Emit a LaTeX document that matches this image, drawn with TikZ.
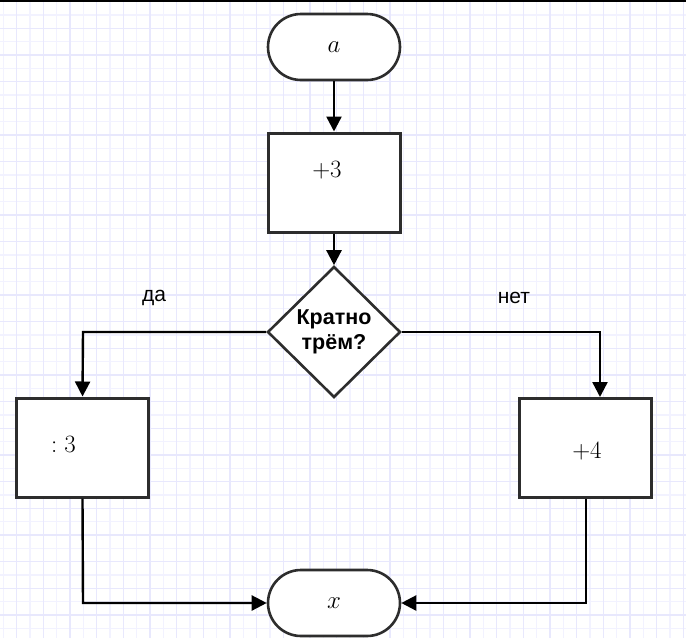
\documentclass[tikz,border=0pt]{standalone}
\usepackage{fontspec}
\setmainfont{Liberation Sans}
\usetikzlibrary{arrows.meta,shapes.geometric}
\definecolor{gridminor}{RGB}{242,242,255}
\definecolor{gridmajor}{RGB}{232,232,253}
\definecolor{border}{RGB}{45,45,45}
\tikzset{
  procbox/.style={draw=border,line width=3pt,fill=white,minimum width=132pt,minimum height=99pt,inner sep=0pt},
  termbox/.style={draw=border,line width=2.6pt,fill=white,minimum width=132pt,minimum height=66pt,rounded corners=33pt,inner sep=0pt,font=\fontsize{27}{30}\selectfont},
  decbox/.style={diamond,draw=border,line width=2.6pt,fill=white,minimum width=133pt,minimum height=131pt,inner sep=0pt,aspect=1,align=center,font=\fontsize{21.5}{25}\selectfont\bfseries},
  flow/.style={line width=2.4pt,-{Triangle[length=15pt,width=15pt]}},
  branchlbl/.style={font=\fontsize{21}{24}\selectfont,inner sep=0pt},
  mathlbl/.style={font=\fontsize{27}{30}\selectfont,inner sep=0pt}
}
\begin{document}
\begin{tikzpicture}[x=1pt,y=-1pt]
\useasboundingbox (0,0) rectangle (686,638);
\fill[white] (0,0) rectangle (686,638);
% grid
\foreach \i in {0,...,51} {
  \draw[gridminor,line width=1.2pt] ({3.3+13.333*\i},0) -- ({3.3+13.333*\i},638);
}
\foreach \j in {0,...,48} {
  \draw[gridminor,line width=1.2pt] (0,{1.67+13.333*\j}) -- (686,{1.67+13.333*\j});
}
\foreach \i in {0,...,25} {
  \draw[gridmajor,line width=1.2pt] ({16.7+26.667*\i},0) -- ({16.7+26.667*\i},638);
}
\foreach \j in {0,...,23} {
  \draw[gridmajor,line width=1.2pt] (0,{1.67+26.667*\j}) -- (686,{1.67+26.667*\j});
}
\draw[black,line width=2pt] (0,0.8) -- (686,0.8);

% nodes
\node[termbox] (start) at (334,47) {$a$};
\node[procbox,label={[mathlbl,shift={(-7,-12.5)}]center:$+3$}] (add3) at (334,182.5) {};
\node[decbox] (dec) at (334,332) {Кратно\\трём?};
\node[procbox,label={[mathlbl,shift={(-19,-3.5)}]center:$:3$}] (div3) at (82.5,447.5) {};
\node[procbox,label={[mathlbl,shift={(1.5,3)}]center:$+4$}] (add4) at (585.5,448) {};
\node[termbox] (stop) at (334,603) {$x$};

\node[branchlbl] (yes) at (154,298) {да};
\node[branchlbl] (no) at (514,298) {нет};

\coordinate (lcorner) at (83,332);
\coordinate (rcorner) at (600,332);
\coordinate (lbottom) at (83,603);
\coordinate (rbottom) at (586,603);

% connectors
\draw[flow] (start.south) -- (add3.north);
\draw[flow] (add3.south) -- (dec.north);
\draw[flow] (dec.west) -- (lcorner) -- (div3.north);
\draw[flow] (dec.east) -- (rcorner) -- (rcorner |- add4.north);
\draw[flow] (div3.south) -- (lbottom) -- (stop.west);
\draw[flow] (add4.south -| rbottom) -- (rbottom) -- (stop.east);
\end{tikzpicture}
\end{document}
